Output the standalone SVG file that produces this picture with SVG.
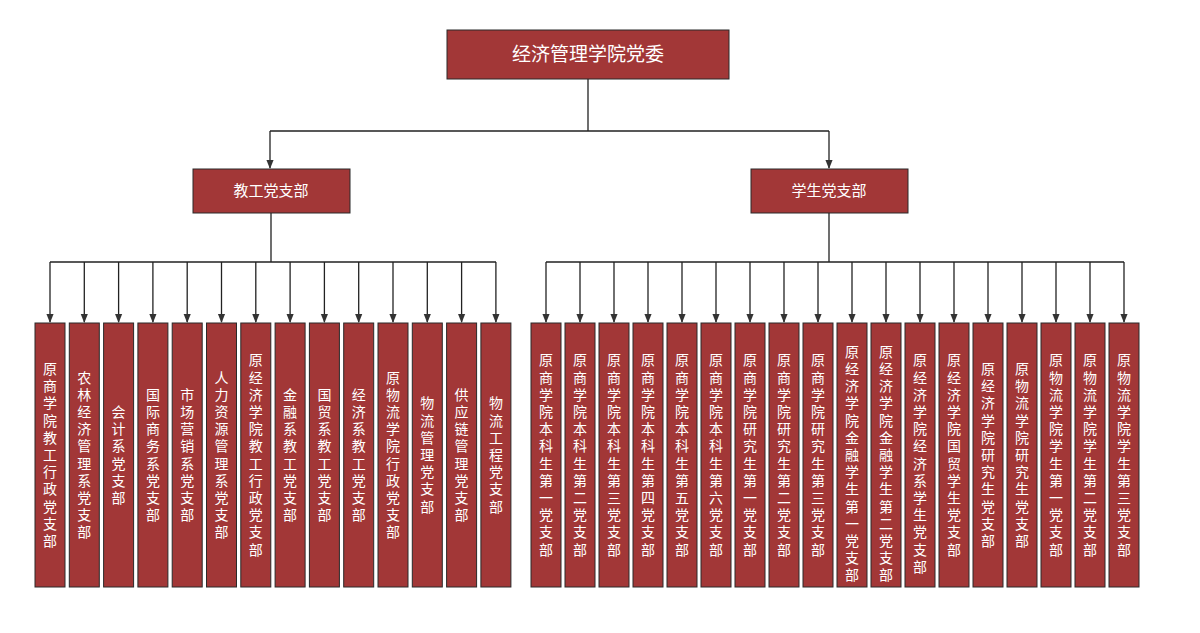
<svg xmlns="http://www.w3.org/2000/svg" width="1200" height="633" viewBox="0 0 1200 633">
<defs>
<marker id="ah" viewBox="0 0 10 10" refX="9" refY="5" markerWidth="7" markerHeight="7" orient="auto"><path d="M0,1 L10,5 L0,9 z" fill="#333"/></marker>
<style>
.b{fill:#a23737;stroke:#2a2a2a;stroke-width:1}
.t{fill:#fff;font-family:"Noto Sans CJK SC",sans-serif;font-size:14px;text-anchor:middle}
.c{stroke:#222;stroke-width:1.3;fill:none}
.a{stroke:#222;stroke-width:1.3;fill:none;marker-end:url(#ah)}
</style>
</defs>
<rect width="1200" height="633" fill="#fff"/>
<g id="connectors">
<path class="c" d="M588,79 V131 M270,131 H829 M271,213 V262 M50,262 H496 M829,213 V262 M546,262 H1124"/>
<path class="a" d="M270,131 V168"/><path class="a" d="M829,131 V168"/>
<path class="a" d="M50,262 V322"/><path class="a" d="M84.3,262 V322"/><path class="a" d="M118.6,262 V322"/><path class="a" d="M152.9,262 V322"/><path class="a" d="M187.2,262 V322"/><path class="a" d="M221.5,262 V322"/><path class="a" d="M255.8,262 V322"/><path class="a" d="M290.1,262 V322"/><path class="a" d="M324.4,262 V322"/><path class="a" d="M358.7,262 V322"/><path class="a" d="M393,262 V322"/><path class="a" d="M427.3,262 V322"/><path class="a" d="M461.6,262 V322"/><path class="a" d="M495.9,262 V322"/>
<path class="a" d="M546,262 V322"/><path class="a" d="M580,262 V322"/><path class="a" d="M614,262 V322"/><path class="a" d="M648,262 V322"/><path class="a" d="M682,262 V322"/><path class="a" d="M716,262 V322"/><path class="a" d="M750,262 V322"/><path class="a" d="M784,262 V322"/><path class="a" d="M818,262 V322"/><path class="a" d="M852,262 V322"/><path class="a" d="M886,262 V322"/><path class="a" d="M920,262 V322"/><path class="a" d="M954,262 V322"/><path class="a" d="M988,262 V322"/><path class="a" d="M1022,262 V322"/><path class="a" d="M1056,262 V322"/><path class="a" d="M1090,262 V322"/><path class="a" d="M1124,262 V322"/>
</g>
<g id="root"><rect class="b" x="447" y="30" width="282" height="49"/><text x="588" y="61" class="t" style="font-size:19px">经济管理学院党委</text></g>
<g id="n-jg"><rect class="b" x="193" y="169" width="157" height="44"/><text x="271" y="196" class="t" style="font-size:15px">教工党支部</text></g>
<g id="n-xs"><rect class="b" x="751" y="169" width="157" height="44"/><text x="829" y="196" class="t" style="font-size:15px">学生党支部</text></g>
<g id="l1"><rect class="b" x="35" y="323" width="30" height="264"/><text class="t" y="374"><tspan x="50">原</tspan><tspan x="50" dy="17.2">商</tspan><tspan x="50" dy="17.2">学</tspan><tspan x="50" dy="17.2">院</tspan><tspan x="50" dy="17.2">教</tspan><tspan x="50" dy="17.2">工</tspan><tspan x="50" dy="17.2">行</tspan><tspan x="50" dy="17.2">政</tspan><tspan x="50" dy="17.2">党</tspan><tspan x="50" dy="17.2">支</tspan><tspan x="50" dy="17.2">部</tspan></text></g>
<g id="l2"><rect class="b" x="69.3" y="323" width="30" height="264"/><text class="t" y="382.6"><tspan x="84.3">农</tspan><tspan x="84.3" dy="17.2">林</tspan><tspan x="84.3" dy="17.2">经</tspan><tspan x="84.3" dy="17.2">济</tspan><tspan x="84.3" dy="17.2">管</tspan><tspan x="84.3" dy="17.2">理</tspan><tspan x="84.3" dy="17.2">系</tspan><tspan x="84.3" dy="17.2">党</tspan><tspan x="84.3" dy="17.2">支</tspan><tspan x="84.3" dy="17.2">部</tspan></text></g>
<g id="l3"><rect class="b" x="103.6" y="323" width="30" height="264"/><text class="t" y="417"><tspan x="118.6">会</tspan><tspan x="118.6" dy="17.2">计</tspan><tspan x="118.6" dy="17.2">系</tspan><tspan x="118.6" dy="17.2">党</tspan><tspan x="118.6" dy="17.2">支</tspan><tspan x="118.6" dy="17.2">部</tspan></text></g>
<g id="l4"><rect class="b" x="137.9" y="323" width="30" height="264"/><text class="t" y="399.8"><tspan x="152.9">国</tspan><tspan x="152.9" dy="17.2">际</tspan><tspan x="152.9" dy="17.2">商</tspan><tspan x="152.9" dy="17.2">务</tspan><tspan x="152.9" dy="17.2">系</tspan><tspan x="152.9" dy="17.2">党</tspan><tspan x="152.9" dy="17.2">支</tspan><tspan x="152.9" dy="17.2">部</tspan></text></g>
<g id="l5"><rect class="b" x="172.2" y="323" width="30" height="264"/><text class="t" y="399.8"><tspan x="187.2">市</tspan><tspan x="187.2" dy="17.2">场</tspan><tspan x="187.2" dy="17.2">营</tspan><tspan x="187.2" dy="17.2">销</tspan><tspan x="187.2" dy="17.2">系</tspan><tspan x="187.2" dy="17.2">党</tspan><tspan x="187.2" dy="17.2">支</tspan><tspan x="187.2" dy="17.2">部</tspan></text></g>
<g id="l6"><rect class="b" x="206.5" y="323" width="30" height="264"/><text class="t" y="382.6"><tspan x="221.5">人</tspan><tspan x="221.5" dy="17.2">力</tspan><tspan x="221.5" dy="17.2">资</tspan><tspan x="221.5" dy="17.2">源</tspan><tspan x="221.5" dy="17.2">管</tspan><tspan x="221.5" dy="17.2">理</tspan><tspan x="221.5" dy="17.2">系</tspan><tspan x="221.5" dy="17.2">党</tspan><tspan x="221.5" dy="17.2">支</tspan><tspan x="221.5" dy="17.2">部</tspan></text></g>
<g id="l7"><rect class="b" x="240.8" y="323" width="30" height="264"/><text class="t" y="365.4"><tspan x="255.8">原</tspan><tspan x="255.8" dy="17.2">经</tspan><tspan x="255.8" dy="17.2">济</tspan><tspan x="255.8" dy="17.2">学</tspan><tspan x="255.8" dy="17.2">院</tspan><tspan x="255.8" dy="17.2">教</tspan><tspan x="255.8" dy="17.2">工</tspan><tspan x="255.8" dy="17.2">行</tspan><tspan x="255.8" dy="17.2">政</tspan><tspan x="255.8" dy="17.2">党</tspan><tspan x="255.8" dy="17.2">支</tspan><tspan x="255.8" dy="17.2">部</tspan></text></g>
<g id="l8"><rect class="b" x="275.1" y="323" width="30" height="264"/><text class="t" y="399.8"><tspan x="290.1">金</tspan><tspan x="290.1" dy="17.2">融</tspan><tspan x="290.1" dy="17.2">系</tspan><tspan x="290.1" dy="17.2">教</tspan><tspan x="290.1" dy="17.2">工</tspan><tspan x="290.1" dy="17.2">党</tspan><tspan x="290.1" dy="17.2">支</tspan><tspan x="290.1" dy="17.2">部</tspan></text></g>
<g id="l9"><rect class="b" x="309.4" y="323" width="30" height="264"/><text class="t" y="399.8"><tspan x="324.4">国</tspan><tspan x="324.4" dy="17.2">贸</tspan><tspan x="324.4" dy="17.2">系</tspan><tspan x="324.4" dy="17.2">教</tspan><tspan x="324.4" dy="17.2">工</tspan><tspan x="324.4" dy="17.2">党</tspan><tspan x="324.4" dy="17.2">支</tspan><tspan x="324.4" dy="17.2">部</tspan></text></g>
<g id="l10"><rect class="b" x="343.7" y="323" width="30" height="264"/><text class="t" y="399.8"><tspan x="358.7">经</tspan><tspan x="358.7" dy="17.2">济</tspan><tspan x="358.7" dy="17.2">系</tspan><tspan x="358.7" dy="17.2">教</tspan><tspan x="358.7" dy="17.2">工</tspan><tspan x="358.7" dy="17.2">党</tspan><tspan x="358.7" dy="17.2">支</tspan><tspan x="358.7" dy="17.2">部</tspan></text></g>
<g id="l11"><rect class="b" x="378" y="323" width="30" height="264"/><text class="t" y="382.6"><tspan x="393">原</tspan><tspan x="393" dy="17.2">物</tspan><tspan x="393" dy="17.2">流</tspan><tspan x="393" dy="17.2">学</tspan><tspan x="393" dy="17.2">院</tspan><tspan x="393" dy="17.2">行</tspan><tspan x="393" dy="17.2">政</tspan><tspan x="393" dy="17.2">党</tspan><tspan x="393" dy="17.2">支</tspan><tspan x="393" dy="17.2">部</tspan></text></g>
<g id="l12"><rect class="b" x="412.3" y="323" width="30" height="264"/><text class="t" y="408.4"><tspan x="427.3">物</tspan><tspan x="427.3" dy="17.2">流</tspan><tspan x="427.3" dy="17.2">管</tspan><tspan x="427.3" dy="17.2">理</tspan><tspan x="427.3" dy="17.2">党</tspan><tspan x="427.3" dy="17.2">支</tspan><tspan x="427.3" dy="17.2">部</tspan></text></g>
<g id="l13"><rect class="b" x="446.6" y="323" width="30" height="264"/><text class="t" y="399.8"><tspan x="461.6">供</tspan><tspan x="461.6" dy="17.2">应</tspan><tspan x="461.6" dy="17.2">链</tspan><tspan x="461.6" dy="17.2">管</tspan><tspan x="461.6" dy="17.2">理</tspan><tspan x="461.6" dy="17.2">党</tspan><tspan x="461.6" dy="17.2">支</tspan><tspan x="461.6" dy="17.2">部</tspan></text></g>
<g id="l14"><rect class="b" x="480.9" y="323" width="30" height="264"/><text class="t" y="408.4"><tspan x="495.9">物</tspan><tspan x="495.9" dy="17.2">流</tspan><tspan x="495.9" dy="17.2">工</tspan><tspan x="495.9" dy="17.2">程</tspan><tspan x="495.9" dy="17.2">党</tspan><tspan x="495.9" dy="17.2">支</tspan><tspan x="495.9" dy="17.2">部</tspan></text></g>
<g id="r1"><rect class="b" x="531" y="323" width="30" height="264"/><text class="t" y="365.4"><tspan x="546">原</tspan><tspan x="546" dy="17.2">商</tspan><tspan x="546" dy="17.2">学</tspan><tspan x="546" dy="17.2">院</tspan><tspan x="546" dy="17.2">本</tspan><tspan x="546" dy="17.2">科</tspan><tspan x="546" dy="17.2">生</tspan><tspan x="546" dy="17.2">第</tspan><tspan x="546" dy="17.2">一</tspan><tspan x="546" dy="17.2">党</tspan><tspan x="546" dy="17.2">支</tspan><tspan x="546" dy="17.2">部</tspan></text></g>
<g id="r2"><rect class="b" x="565" y="323" width="30" height="264"/><text class="t" y="365.4"><tspan x="580">原</tspan><tspan x="580" dy="17.2">商</tspan><tspan x="580" dy="17.2">学</tspan><tspan x="580" dy="17.2">院</tspan><tspan x="580" dy="17.2">本</tspan><tspan x="580" dy="17.2">科</tspan><tspan x="580" dy="17.2">生</tspan><tspan x="580" dy="17.2">第</tspan><tspan x="580" dy="17.2">二</tspan><tspan x="580" dy="17.2">党</tspan><tspan x="580" dy="17.2">支</tspan><tspan x="580" dy="17.2">部</tspan></text></g>
<g id="r3"><rect class="b" x="599" y="323" width="30" height="264"/><text class="t" y="365.4"><tspan x="614">原</tspan><tspan x="614" dy="17.2">商</tspan><tspan x="614" dy="17.2">学</tspan><tspan x="614" dy="17.2">院</tspan><tspan x="614" dy="17.2">本</tspan><tspan x="614" dy="17.2">科</tspan><tspan x="614" dy="17.2">生</tspan><tspan x="614" dy="17.2">第</tspan><tspan x="614" dy="17.2">三</tspan><tspan x="614" dy="17.2">党</tspan><tspan x="614" dy="17.2">支</tspan><tspan x="614" dy="17.2">部</tspan></text></g>
<g id="r4"><rect class="b" x="633" y="323" width="30" height="264"/><text class="t" y="365.4"><tspan x="648">原</tspan><tspan x="648" dy="17.2">商</tspan><tspan x="648" dy="17.2">学</tspan><tspan x="648" dy="17.2">院</tspan><tspan x="648" dy="17.2">本</tspan><tspan x="648" dy="17.2">科</tspan><tspan x="648" dy="17.2">生</tspan><tspan x="648" dy="17.2">第</tspan><tspan x="648" dy="17.2">四</tspan><tspan x="648" dy="17.2">党</tspan><tspan x="648" dy="17.2">支</tspan><tspan x="648" dy="17.2">部</tspan></text></g>
<g id="r5"><rect class="b" x="667" y="323" width="30" height="264"/><text class="t" y="365.4"><tspan x="682">原</tspan><tspan x="682" dy="17.2">商</tspan><tspan x="682" dy="17.2">学</tspan><tspan x="682" dy="17.2">院</tspan><tspan x="682" dy="17.2">本</tspan><tspan x="682" dy="17.2">科</tspan><tspan x="682" dy="17.2">生</tspan><tspan x="682" dy="17.2">第</tspan><tspan x="682" dy="17.2">五</tspan><tspan x="682" dy="17.2">党</tspan><tspan x="682" dy="17.2">支</tspan><tspan x="682" dy="17.2">部</tspan></text></g>
<g id="r6"><rect class="b" x="701" y="323" width="30" height="264"/><text class="t" y="365.4"><tspan x="716">原</tspan><tspan x="716" dy="17.2">商</tspan><tspan x="716" dy="17.2">学</tspan><tspan x="716" dy="17.2">院</tspan><tspan x="716" dy="17.2">本</tspan><tspan x="716" dy="17.2">科</tspan><tspan x="716" dy="17.2">生</tspan><tspan x="716" dy="17.2">第</tspan><tspan x="716" dy="17.2">六</tspan><tspan x="716" dy="17.2">党</tspan><tspan x="716" dy="17.2">支</tspan><tspan x="716" dy="17.2">部</tspan></text></g>
<g id="r7"><rect class="b" x="735" y="323" width="30" height="264"/><text class="t" y="365.4"><tspan x="750">原</tspan><tspan x="750" dy="17.2">商</tspan><tspan x="750" dy="17.2">学</tspan><tspan x="750" dy="17.2">院</tspan><tspan x="750" dy="17.2">研</tspan><tspan x="750" dy="17.2">究</tspan><tspan x="750" dy="17.2">生</tspan><tspan x="750" dy="17.2">第</tspan><tspan x="750" dy="17.2">一</tspan><tspan x="750" dy="17.2">党</tspan><tspan x="750" dy="17.2">支</tspan><tspan x="750" dy="17.2">部</tspan></text></g>
<g id="r8"><rect class="b" x="769" y="323" width="30" height="264"/><text class="t" y="365.4"><tspan x="784">原</tspan><tspan x="784" dy="17.2">商</tspan><tspan x="784" dy="17.2">学</tspan><tspan x="784" dy="17.2">院</tspan><tspan x="784" dy="17.2">研</tspan><tspan x="784" dy="17.2">究</tspan><tspan x="784" dy="17.2">生</tspan><tspan x="784" dy="17.2">第</tspan><tspan x="784" dy="17.2">二</tspan><tspan x="784" dy="17.2">党</tspan><tspan x="784" dy="17.2">支</tspan><tspan x="784" dy="17.2">部</tspan></text></g>
<g id="r9"><rect class="b" x="803" y="323" width="30" height="264"/><text class="t" y="365.4"><tspan x="818">原</tspan><tspan x="818" dy="17.2">商</tspan><tspan x="818" dy="17.2">学</tspan><tspan x="818" dy="17.2">院</tspan><tspan x="818" dy="17.2">研</tspan><tspan x="818" dy="17.2">究</tspan><tspan x="818" dy="17.2">生</tspan><tspan x="818" dy="17.2">第</tspan><tspan x="818" dy="17.2">三</tspan><tspan x="818" dy="17.2">党</tspan><tspan x="818" dy="17.2">支</tspan><tspan x="818" dy="17.2">部</tspan></text></g>
<g id="r10"><rect class="b" x="837" y="323" width="30" height="264"/><text class="t" y="356.8"><tspan x="852">原</tspan><tspan x="852" dy="17.2">经</tspan><tspan x="852" dy="17.2">济</tspan><tspan x="852" dy="17.2">学</tspan><tspan x="852" dy="17.2">院</tspan><tspan x="852" dy="17.2">金</tspan><tspan x="852" dy="17.2">融</tspan><tspan x="852" dy="17.2">学</tspan><tspan x="852" dy="17.2">生</tspan><tspan x="852" dy="17.2">第</tspan><tspan x="852" dy="17.2">一</tspan><tspan x="852" dy="17.2">党</tspan><tspan x="852" dy="17.2">支</tspan><tspan x="852" dy="17.2">部</tspan></text></g>
<g id="r11"><rect class="b" x="871" y="323" width="30" height="264"/><text class="t" y="356.8"><tspan x="886">原</tspan><tspan x="886" dy="17.2">经</tspan><tspan x="886" dy="17.2">济</tspan><tspan x="886" dy="17.2">学</tspan><tspan x="886" dy="17.2">院</tspan><tspan x="886" dy="17.2">金</tspan><tspan x="886" dy="17.2">融</tspan><tspan x="886" dy="17.2">学</tspan><tspan x="886" dy="17.2">生</tspan><tspan x="886" dy="17.2">第</tspan><tspan x="886" dy="17.2">二</tspan><tspan x="886" dy="17.2">党</tspan><tspan x="886" dy="17.2">支</tspan><tspan x="886" dy="17.2">部</tspan></text></g>
<g id="r12"><rect class="b" x="905" y="323" width="30" height="264"/><text class="t" y="365.4"><tspan x="920">原</tspan><tspan x="920" dy="17.2">经</tspan><tspan x="920" dy="17.2">济</tspan><tspan x="920" dy="17.2">学</tspan><tspan x="920" dy="17.2">院</tspan><tspan x="920" dy="17.2">经</tspan><tspan x="920" dy="17.2">济</tspan><tspan x="920" dy="17.2">系</tspan><tspan x="920" dy="17.2">学</tspan><tspan x="920" dy="17.2">生</tspan><tspan x="920" dy="17.2">党</tspan><tspan x="920" dy="17.2">支</tspan><tspan x="920" dy="17.2">部</tspan></text></g>
<g id="r13"><rect class="b" x="939" y="323" width="30" height="264"/><text class="t" y="365.4"><tspan x="954">原</tspan><tspan x="954" dy="17.2">经</tspan><tspan x="954" dy="17.2">济</tspan><tspan x="954" dy="17.2">学</tspan><tspan x="954" dy="17.2">院</tspan><tspan x="954" dy="17.2">国</tspan><tspan x="954" dy="17.2">贸</tspan><tspan x="954" dy="17.2">学</tspan><tspan x="954" dy="17.2">生</tspan><tspan x="954" dy="17.2">党</tspan><tspan x="954" dy="17.2">支</tspan><tspan x="954" dy="17.2">部</tspan></text></g>
<g id="r14"><rect class="b" x="973" y="323" width="30" height="264"/><text class="t" y="374"><tspan x="988">原</tspan><tspan x="988" dy="17.2">经</tspan><tspan x="988" dy="17.2">济</tspan><tspan x="988" dy="17.2">学</tspan><tspan x="988" dy="17.2">院</tspan><tspan x="988" dy="17.2">研</tspan><tspan x="988" dy="17.2">究</tspan><tspan x="988" dy="17.2">生</tspan><tspan x="988" dy="17.2">党</tspan><tspan x="988" dy="17.2">支</tspan><tspan x="988" dy="17.2">部</tspan></text></g>
<g id="r15"><rect class="b" x="1007" y="323" width="30" height="264"/><text class="t" y="374"><tspan x="1022">原</tspan><tspan x="1022" dy="17.2">物</tspan><tspan x="1022" dy="17.2">流</tspan><tspan x="1022" dy="17.2">学</tspan><tspan x="1022" dy="17.2">院</tspan><tspan x="1022" dy="17.2">研</tspan><tspan x="1022" dy="17.2">究</tspan><tspan x="1022" dy="17.2">生</tspan><tspan x="1022" dy="17.2">党</tspan><tspan x="1022" dy="17.2">支</tspan><tspan x="1022" dy="17.2">部</tspan></text></g>
<g id="r16"><rect class="b" x="1041" y="323" width="30" height="264"/><text class="t" y="365.4"><tspan x="1056">原</tspan><tspan x="1056" dy="17.2">物</tspan><tspan x="1056" dy="17.2">流</tspan><tspan x="1056" dy="17.2">学</tspan><tspan x="1056" dy="17.2">院</tspan><tspan x="1056" dy="17.2">学</tspan><tspan x="1056" dy="17.2">生</tspan><tspan x="1056" dy="17.2">第</tspan><tspan x="1056" dy="17.2">一</tspan><tspan x="1056" dy="17.2">党</tspan><tspan x="1056" dy="17.2">支</tspan><tspan x="1056" dy="17.2">部</tspan></text></g>
<g id="r17"><rect class="b" x="1075" y="323" width="30" height="264"/><text class="t" y="365.4"><tspan x="1090">原</tspan><tspan x="1090" dy="17.2">物</tspan><tspan x="1090" dy="17.2">流</tspan><tspan x="1090" dy="17.2">学</tspan><tspan x="1090" dy="17.2">院</tspan><tspan x="1090" dy="17.2">学</tspan><tspan x="1090" dy="17.2">生</tspan><tspan x="1090" dy="17.2">第</tspan><tspan x="1090" dy="17.2">二</tspan><tspan x="1090" dy="17.2">党</tspan><tspan x="1090" dy="17.2">支</tspan><tspan x="1090" dy="17.2">部</tspan></text></g>
<g id="r18"><rect class="b" x="1109" y="323" width="30" height="264"/><text class="t" y="365.4"><tspan x="1124">原</tspan><tspan x="1124" dy="17.2">物</tspan><tspan x="1124" dy="17.2">流</tspan><tspan x="1124" dy="17.2">学</tspan><tspan x="1124" dy="17.2">院</tspan><tspan x="1124" dy="17.2">学</tspan><tspan x="1124" dy="17.2">生</tspan><tspan x="1124" dy="17.2">第</tspan><tspan x="1124" dy="17.2">三</tspan><tspan x="1124" dy="17.2">党</tspan><tspan x="1124" dy="17.2">支</tspan><tspan x="1124" dy="17.2">部</tspan></text></g>
</svg>
